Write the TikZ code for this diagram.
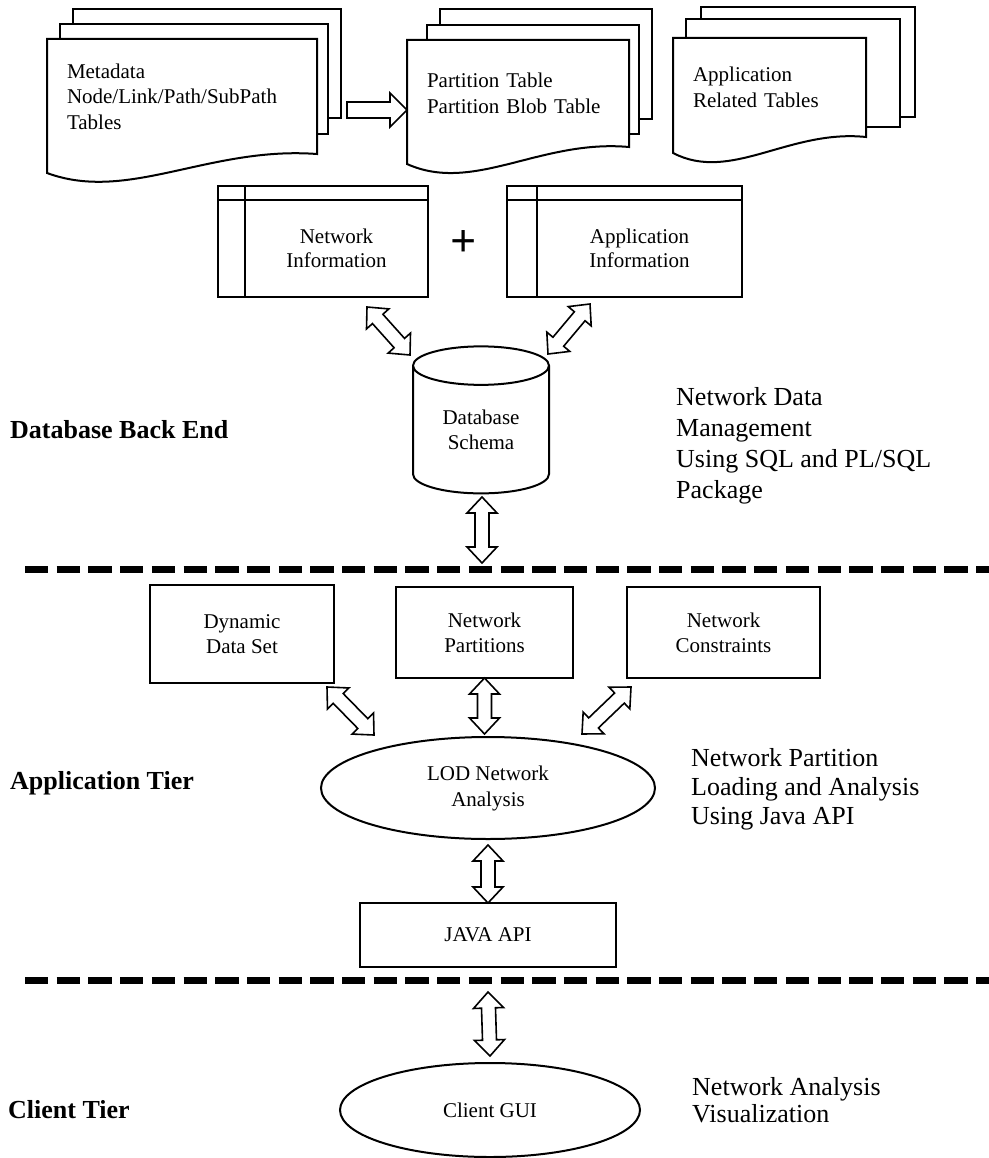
\documentclass[tikz,border=0pt]{standalone}
\usepackage{fontspec}
\setmainfont{Liberation Serif}
\usetikzlibrary{shapes, arrows, calc, positioning}

\begin{document}
\begin{tikzpicture}[x=1pt, y=-1pt, node distance=147pt and 240pt, on grid]

\tikzstyle{page} = [draw, line width=2pt, line join=miter]
\tikzstyle{docpage} = [rectangle, inner xsep=20pt, inner ysep=0pt, outer sep=0pt, align=left, font=\fontsize{21}{25.5}\selectfont]
\tikzstyle{box} = [rectangle, draw, line width=2pt, outer sep=0pt, align=center, font=\fontsize{21}{25}\selectfont]
\tikzstyle{boxtext} = [align=center, inner sep=0pt, font=\fontsize{21}{24}\selectfont]
\tikzstyle{bubble} = [ellipse, draw, line width=2pt, outer sep=0pt, inner sep=0pt, align=center, font=\fontsize{21}{26}\selectfont]
\tikzstyle{store} = [cylinder, shape border rotate=90, aspect=0.5, draw, line width=2pt, outer sep=0pt, inner sep=0pt, align=center, font=\fontsize{21}{25}\selectfont]
\tikzstyle{tier} = [anchor=west, inner sep=0pt, font=\fontsize{26}{30}\selectfont\bfseries]
\tikzstyle{note} = [anchor=west, inner sep=0pt, align=left]
\tikzstyle{sep} = [draw, line width=7pt, dash pattern=on 23.3pt off 8.4pt]
\tikzstyle{fat} = [draw, fill=white, line width=1.6pt, line join=miter]
\tikzstyle{fatone} = [fat, to path={let \p1=(\tikztostart), \p2=(\tikztotarget), \n1={atan2(\y2-\y1,\x2-\x1)} in
  ($(\p1)+(\n1+90:8pt)$) -- ($(\p2)+(\n1:-17pt)+(\n1+90:8pt)$) -- ($(\p2)+(\n1:-17pt)+(\n1+90:17pt)$) -- (\p2)
  -- ($(\p2)+(\n1:-17pt)+(\n1-90:17pt)$) -- ($(\p2)+(\n1:-17pt)+(\n1-90:8pt)$) -- ($(\p1)+(\n1-90:8pt)$) -- cycle}]
\tikzstyle{fatdbl} = [fat, to path={let \p1=(\tikztostart), \p2=(\tikztotarget), \n1={atan2(\y2-\y1,\x2-\x1)} in
  (\p1) -- ($(\p1)+(\n1:16pt)+(\n1+90:15pt)$) -- ($(\p1)+(\n1:16pt)+(\n1+90:7pt)$)
  -- ($(\p2)+(\n1:-16pt)+(\n1+90:7pt)$) -- ($(\p2)+(\n1:-16pt)+(\n1+90:15pt)$) -- (\p2)
  -- ($(\p2)+(\n1:-16pt)+(\n1-90:15pt)$) -- ($(\p2)+(\n1:-16pt)+(\n1-90:7pt)$)
  -- ($(\p1)+(\n1:16pt)+(\n1-90:7pt)$) -- ($(\p1)+(\n1:16pt)+(\n1-90:15pt)$) -- cycle}]

	\path[use as bounding box, fill=white] (0,0) rectangle (988,1158);

	% table stacks
	\draw[page] (73,24) |- (341,9) |- (328,118);
	\draw[page] (60,39) |- (328,24) |- (317,134);
	\node [docpage, minimum width=270, minimum height=115, text width=230] (meta) at (182,96.5) {Metadata\\Node/Link/Path/SubPath\\Tables};
	\draw[page] (meta.north west) -- (meta.north east) -- (meta.south east) .. controls ($(meta.south west)!0.6!(meta.south east)+(0,-8)$) and ($(meta.south west)!0.3!(meta.south east)+(0,49)$) .. ($(meta.south west)+(0,19)$) -- cycle;

	\draw[page] (440,25) |- (652,9) |- (639,119);
	\draw[page] (427,40) |- (639,25) |- (629,134);
	\node [docpage, minimum width=222, minimum height=107, text width=182] (part) at (518,93.5) {Partition Table\\Partition Blob Table};
	\draw[page] (part.north west) -- (part.north east) -- (part.south east) .. controls ($(part.south west)!0.6!(part.south east)+(0,-8)$) and ($(part.south west)!0.3!(part.south east)+(0,47)$) .. ($(part.south west)+(0,17)$) -- cycle;

	\draw[page] (701,19) |- (915,7) |- (900,117);
	\draw[page] (686,38) |- (900,19) |- (866,127);
	\node [docpage, minimum width=193, minimum height=99, text width=153] (apptab) at (769.5,87.5) {Application\\Related Tables};
	\draw[page] (apptab.north west) -- (apptab.north east) -- (apptab.south east) .. controls ($(apptab.south west)!0.6!(apptab.south east)+(0,-8)$) and ($(apptab.south west)!0.3!(apptab.south east)+(0,46)$) .. ($(apptab.south west)+(0,16)$) -- cycle;

	\coordinate (mtail) at (347,110);
	\draw[fatone] (mtail) to (mtail -| part.west);

	% information tables
	\node [box, minimum width=210, minimum height=111] (ninfo) at (323,241.5) {};
	\draw[page] ($(ninfo.north west)+(27,0)$) -- ($(ninfo.south west)+(27,0)$);
	\draw[page] ($(ninfo.north west)+(0,14)$) -- ($(ninfo.north east)+(0,14)$);
	\node [boxtext] (ninfotxt) at ($(ninfo.center)+(13.5,7)$) {Network\\Information};

	\node [box, minimum width=235, minimum height=111] (ainfo) at (624.5,241.5) {};
	\draw[page] ($(ainfo.north west)+(30,0)$) -- ($(ainfo.south west)+(30,0)$);
	\draw[page] ($(ainfo.north west)+(0,14)$) -- ($(ainfo.north east)+(0,14)$);
	\node [boxtext] (ainfotxt) at ($(ainfo.center)+(15,7)$) {Application\\Information};

	\node [font=\fontsize{46}{46}\selectfont\bfseries, inner sep=0pt] (plus) at (464,244) {+};

	\node [store, minimum width=136, minimum height=147] (db) at (481,430) {Database\\Schema};

	\draw[fatdbl] ($(ninfo.south east)+(-61,10)$) to ($(db.center)+(-71,-75)$);
	\draw[fatdbl] ($(ainfo.south west)+(83,7)$) to ($(db.center)+(67,-76)$);

	\node [tier] (dbend) at (10,430) {Database Back End};
	\node [note, font=\fontsize{26}{31}\selectfont] (dbnote) at (676,446) {Network Data\\Management\\Using SQL and PL/SQL\\Package};

	% tier borders
	\coordinate (d1l) at (25,569);
	\coordinate (d1r) at (990,569);
	\draw[sep] (d1l) -- (d1r);
	\draw[fatdbl] ($(db.center |- d1l)+(1,-72)$) to ($(db.center |- d1l)+(1,-6)$);

	% application tier
	\node [box, minimum width=184, minimum height=98] (dyn) at (242,634) {Dynamic\\Data Set};
	\node [box, minimum width=177, minimum height=91] (npart) at (484.5,632.5) {Network\\Partitions};
	\node [box, minimum width=193, minimum height=91, right=239pt of npart] (ncons) {Network\\Constraints};

	\node [bubble, minimum width=334, minimum height=102] (lod) at (488,788) {LOD Network\\Analysis};

	\draw[fatdbl] ($(dyn.south east)+(-7,4)$) to ($(lod.center)+(-114,-53)$);
	\draw[fatdbl] (npart.south) to ($(npart.south |- lod.north)+(0,-3)$);
	\draw[fatdbl] ($(ncons.south west)+(4,9)$) to ($(lod.center)+(94,-54)$);

	\node [tier] (apptier) at (10,783) {Application Tier};
	\node [note, font=\fontsize{26}{29}\selectfont] (lodnote) at (691,789) {Network Partition\\Loading and Analysis\\Using Java API};

	\node [box, minimum width=256, minimum height=64, below=147pt of lod] (java) {JAVA API};
	\draw[fatdbl] ($(lod.south)+(0,6)$) to (java.north);

	\coordinate (d2l) at (25,980);
	\coordinate (d2r) at (990,980);
	\draw[sep] (d2l) -- (d2r);

	% client tier
	\node [bubble, minimum width=300, minimum height=94] (gui) at (490,1110) {Client GUI};
	\draw[fatdbl] ($(java.south |- d2l)+(0,12)$) to ($(gui.north)+(0,-7)$);

	\node [tier] (clienttier) at (8,1110) {Client Tier};
	\node [note, font=\fontsize{26}{27}\selectfont] (guinote) at (692,1100) {Network Analysis\\Visualization};

\end{tikzpicture}
\end{document}
